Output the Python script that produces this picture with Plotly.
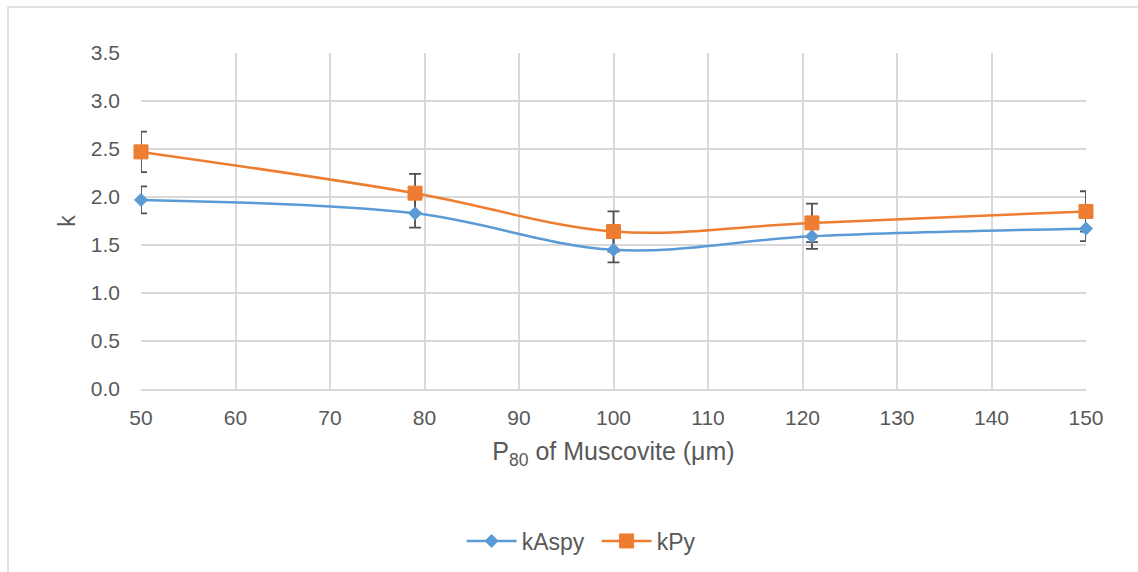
import plotly.graph_objects as go

# Particle size P80 of muscovite (µm)
p80 = [50, 79, 100, 121, 150]

# Rate constants and their error bars
k_aspy = [1.97, 1.83, 1.45, 1.59, 1.67]
k_aspy_err = [0.14, 0.15, 0.13, 0.13, 0.13]
k_py = [2.47, 2.04, 1.64, 1.73, 1.85]
k_py_err = [0.21, 0.20, 0.21, 0.20, 0.21]

x_ticks = [50, 60, 70, 80, 90, 100, 110, 120, 130, 140, 150]
y_ticks = [0.0, 0.5, 1.0, 1.5, 2.0, 2.5, 3.0, 3.5]

BLUE = "#5B9BD5"
ORANGE = "#ED7D31"
GRID = "#D9D9D9"
TEXT = "#595959"
ERR = "#505050"
FONT = "Liberation Sans, Arial, sans-serif"

fig = go.Figure()

# Error bars first so the markers sit on top of them
for vals, errs in ((k_py, k_py_err), (k_aspy, k_aspy_err)):
    fig.add_trace(go.Scatter(
        x=p80, y=vals, mode="none", showlegend=False, hoverinfo="skip",
        cliponaxis=False,
        error_y=dict(type="data", array=errs, visible=True,
                     color=ERR, thickness=1.8, width=6),
    ))

fig.add_trace(go.Scatter(
    x=p80, y=k_aspy, name="kAspy", mode="lines+markers", cliponaxis=False,
    line=dict(color=BLUE, width=2.5, shape="spline", smoothing=1),
    marker=dict(symbol="diamond", size=10, color=BLUE,
                line=dict(color=BLUE, width=1)),
))
fig.add_trace(go.Scatter(
    x=p80, y=k_py, name="kPy", mode="lines+markers", cliponaxis=False,
    line=dict(color=ORANGE, width=2.5, shape="spline", smoothing=1),
    marker=dict(symbol="square", size=14, color=ORANGE,
                line=dict(color=ORANGE, width=1)),
))

# Light chart-area border
fig.add_shape(type="rect", xref="paper", yref="paper",
              x0=-0.1407, x1=1.2, y0=-0.8, y1=1.1369,
              line=dict(color=GRID, width=1.5), fillcolor="rgba(0,0,0,0)",
              layer="below")

fig.update_layout(
    width=1138, height=572,
    margin=dict(l=141, r=52, t=53, b=183, autoexpand=False),
    paper_bgcolor="white", plot_bgcolor="white",
    font=dict(family=FONT, color=TEXT, size=21),
    showlegend=True,
    legend=dict(orientation="h", x=0.3393, xanchor="left",
                yref="container", y=0.0542, yanchor="middle",
                font=dict(size=23, color=TEXT), itemwidth=50,
                entrywidth=70, traceorder="normal"),
    xaxis=dict(
        range=[50, 150], tickvals=x_ticks, showgrid=True, gridcolor=GRID,
        gridwidth=1.5, zeroline=False, showline=True, linecolor=GRID,
        linewidth=1.5, ticks="", ticklabelstandoff=9, automargin=False,
        title=dict(text="P<sub>80</sub> of Muscovite (μm)",
                   font=dict(size=25, color=TEXT), standoff=15),
    ),
    yaxis=dict(
        range=[0, 3.5], tickvals=y_ticks, tickformat=".1f", showgrid=True,
        gridcolor=GRID, gridwidth=1.5, zeroline=False, showline=False,
        ticks="", ticklabelstandoff=20, automargin=False,
        title=dict(text="k", font=dict(size=23, color=TEXT), standoff=8),
    ),
)

fig.write_html("out.html")
